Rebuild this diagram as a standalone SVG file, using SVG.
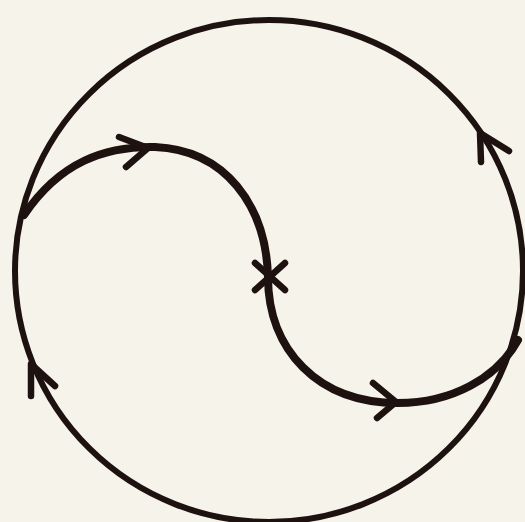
<svg xmlns="http://www.w3.org/2000/svg" width="525" height="522" viewBox="0 0 525 522">
<style>
.ln{fill:none;stroke:#1e1210;stroke-linecap:round;stroke-linejoin:round}
.c{stroke-width:6}
.s{stroke-width:8}
.a{stroke-width:6.5}
</style>
<rect width="525" height="522" fill="#f6f3ea"/>
<g id="circle">
<ellipse class="ln c" cx="269" cy="271" rx="254" ry="251"/>
</g>
<g id="center-x">
<path class="ln a" d="M255 263 L285 290 M285 263 L255 290"/>
</g>
<g id="connectors">
<path class="ln s" d="M24 215 C60 162 105 146 155 147 C225 150 266 205 268 277"/>
<path class="ln s" d="M268 277 C268 350 318 403 398 403 C452 403 497 378 518 340"/>
<path class="ln a" d="M119 137 L148 148 L126 167"/>
<path class="ln a" d="M373 383 L396 402 L377 418"/>
<path class="ln a" d="M481 162 L480 133 L509 151"/>
<path class="ln a" d="M31 396 L31 364 L55 386"/>
</g>
</svg>
